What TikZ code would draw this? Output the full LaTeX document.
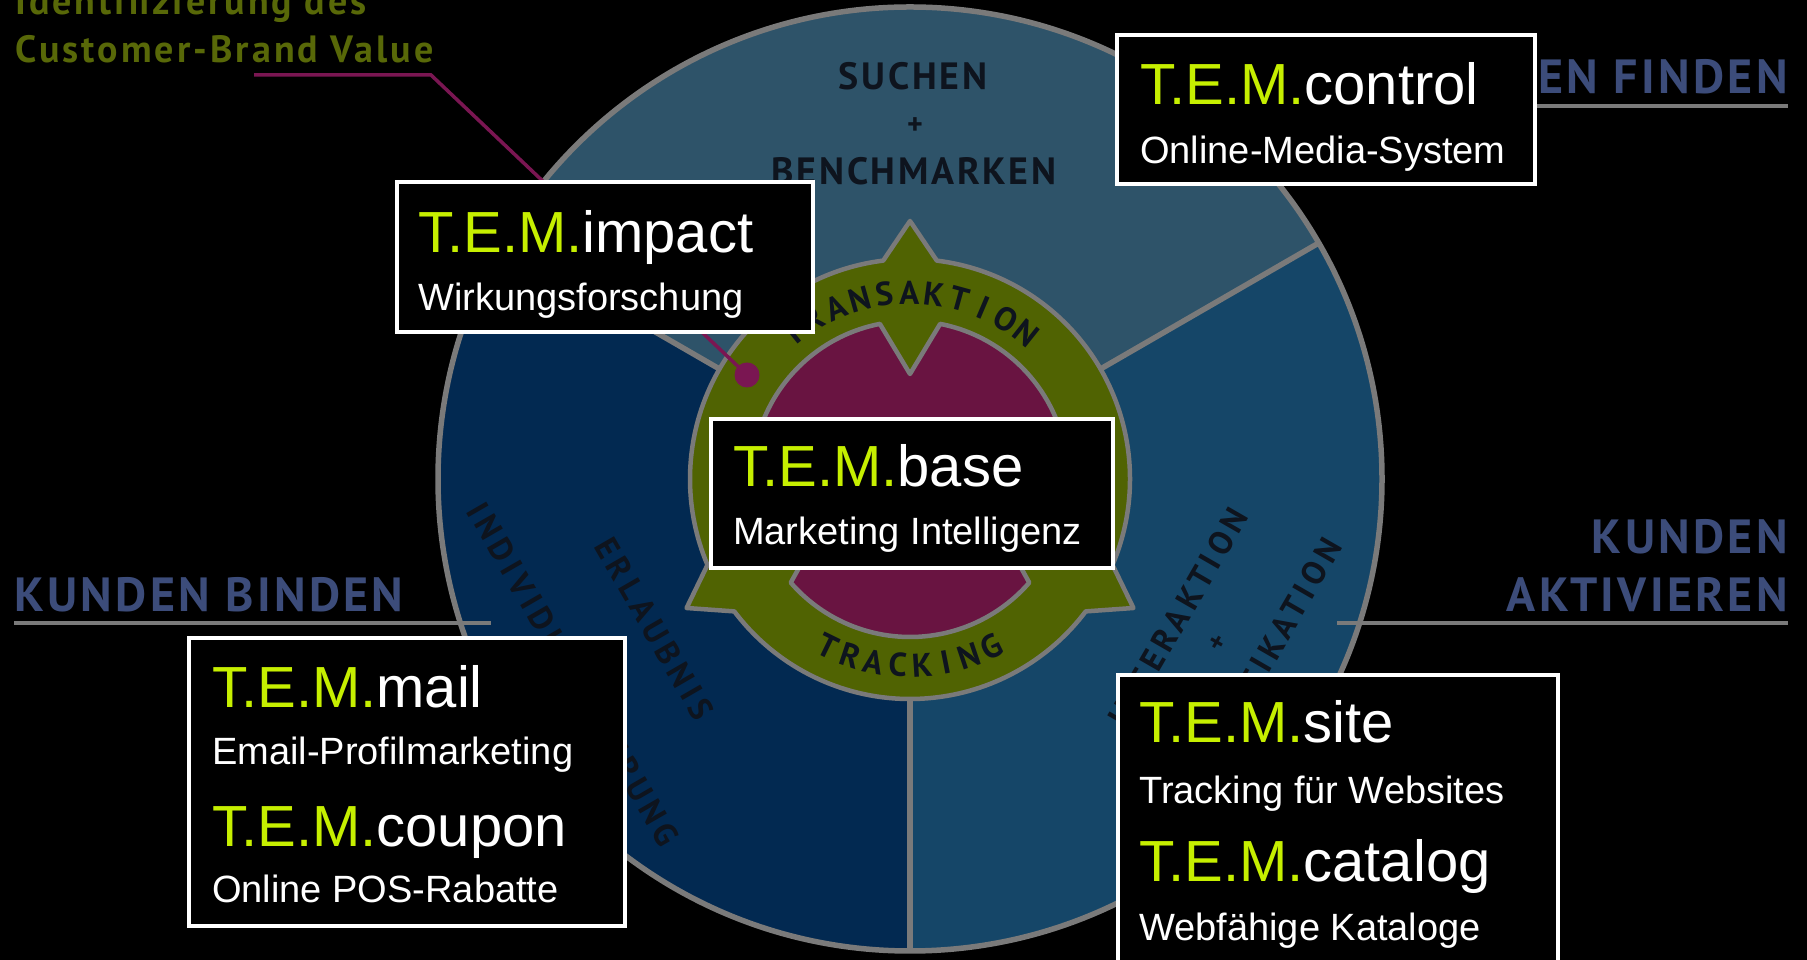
\documentclass[tikz,border=0pt]{standalone}
\usepackage{fontspec}
\setmainfont{Liberation Sans}
\newfontfamily\dinfont{PT Sans}[LetterSpace=7]
\newfontfamily\dinsector{PT Sans}[LetterSpace=15]
\newfontfamily\dinplain{PT Sans}
\newfontfamily\dinlabel{PT Sans}[LetterSpace=7]
\newfontfamily\dinolive{PT Sans}[LetterSpace=8]
\usetikzlibrary{calc}
\definecolor{sectop}{RGB}{46,83,105}
\definecolor{secright}{RGB}{21,70,104}
\definecolor{secleft}{RGB}{2,41,81}
\definecolor{rimgray}{RGB}{122,122,122}
\definecolor{ringgreen}{RGB}{80,99,2}
\definecolor{coremag}{RGB}{105,20,65}
\definecolor{temlime}{RGB}{198,239,0}
\definecolor{labelblue}{RGB}{60,76,122}
\definecolor{textolive}{RGB}{88,104,8}
\definecolor{leadmag}{RGB}{122,22,82}
\definecolor{inktext}{RGB}{14,20,30}
\newcommand\TEMpre{\textcolor{temlime}{T.E.M.}}
\begin{document}
\begin{tikzpicture}[x=1pt,y=1pt,
  rim/.style={draw=rimgray, line width=5.5pt},
  ringrim/.style={draw=rimgray, line width=4.5pt, line join=round},
  tembox/.style={draw=white, fill=black, line width=3.5pt, rectangle, inner sep=0pt, outer sep=0pt, anchor=south west},
  head/.style={anchor=base west, inner sep=0pt, text=white, font=\fontsize{58}{60}\selectfont},
  sub/.style={anchor=base west, inner sep=0pt, text=white, font=\fontsize{38}{40}\selectfont},
  ringchar/.style={anchor=base, inner sep=0pt, text=inktext, font=\dinplain\bfseries\fontsize{33}{35}\selectfont},
  sectortxt/.style={inner sep=0pt, text=inktext, text depth=0pt, font=\dinsector\bfseries\fontsize{33}{36}\selectfont},
  suchtxt/.style={anchor=base, inner sep=0pt, text=inktext, font=\dinfont\bfseries\fontsize{38}{40}\selectfont},
  outerlabel/.style={inner sep=0pt, text=labelblue, font=\dinlabel\bfseries\fontsize{48}{50}\selectfont},
  olivetxt/.style={anchor=base west, inner sep=0pt, text=textolive, font=\dinolive\bfseries\fontsize{38}{40}\selectfont},
  underl/.style={draw=rimgray, line width=4pt},
  leader/.style={draw=leadmag, line width=3.5pt}
]
\useasboundingbox (0,0) rectangle (1807,960);
\clip (0,0) rectangle (1807,960);
\fill[black] (0,0) rectangle (1807,960);

\coordinate (C) at (910,481);

% outer sectors
\fill[secleft] (C) -- ($(C)+(150:472)$) arc[start angle=150,end angle=270,radius=472] -- cycle;
\fill[secright] (C) -- ($(C)+(270:472)$) arc[start angle=270,end angle=390,radius=472] -- cycle;
\fill[sectop] (C) -- ($(C)+(30:472)$) arc[start angle=30,end angle=150,radius=472] -- cycle;
\draw[rim] (C) circle[radius=472];
\foreach \a in {30,150,270} \draw[rim] ($(C)+(\a:200)$) -- ($(C)+(\a:472)$);

% green ring with arrow points
\draw[ringrim, fill=ringgreen] ($(C)+(97:220)$) arc[start angle=97,end angle=203,radius=220]
  -- ($(C)+(210:258)$) -- ($(C)+(217:220)$) arc[start angle=217,end angle=323,radius=220]
  -- ($(C)+(330:258)$) -- ($(C)+(337:220)$) arc[start angle=337,end angle=443,radius=220]
  -- ($(C)+(90:258)$) -- cycle;
% magenta core
\draw[ringrim, fill=coremag] ($(C)+(101:158)$) arc[start angle=101,end angle=199,radius=158]
  -- ($(C)+(210:105)$) -- ($(C)+(221:158)$) arc[start angle=221,end angle=319,radius=158]
  -- ($(C)+(330:105)$) -- ($(C)+(341:158)$) arc[start angle=341,end angle=439,radius=158]
  -- ($(C)+(90:105)$) -- cycle;

% ring texts
\foreach \ch [count=\i] in {T,R,A,N,S,A,K,T,I,O,N} {
  \pgfmathsetmacro\ang{129-(\i-1)*7.76}
  \node[ringchar, rotate=\ang-90] (trans\i) at ($(C)+(\ang:175)$) {\ch};
}
\foreach \ch [count=\i] in {T,R,A,C,K,I,N,G} {
  \pgfmathsetmacro\ang{244+(\i-1)*7.43}
  \node[ringchar, rotate=\ang+90] (track\i) at ($(C)+(\ang:198)$) {\ch};
}

% sector texts
\node[suchtxt] (suchen) at (913,870) {SUCHEN};
\node[inner sep=0pt, text=inktext, font=\dinplain\bfseries\fontsize{30}{32}\selectfont] (plustop) at (915,834) {+};
\node[suchtxt] (bench) at (914,775) {BENCHMARKEN};
\node[sectortxt, rotate=-60] (erlaubnis) at (654.7,331.3) {ERLAUBNIS};
\node[sectortxt, rotate=-60] (indiv) at (573.6,285.6) {INDIVIDUALISIERUNG};
\node[sectortxt, rotate=60] (interakt) at (1177.7,342.6) {INTERAKTION};
\node[inner sep=0pt, text=inktext, rotate=60, font=\dinplain\bfseries\fontsize{28}{30}\selectfont] (plusright) at (1218.2,316.9) {+};
\node[sectortxt, rotate=60] (qualif) at (1261.8,296.4) {QUALIFIKATION};

% outer labels and underlines
\node[outerlabel, anchor=base west] (kbinden) at (14,348) {KUNDEN BINDEN};
\coordinate (ulA1) at (14,337); \coordinate (ulA2) at (491,337);
\draw[underl] (ulA1) -- (ulA2);
\node[outerlabel, anchor=base east] (kfinden) at (1788,866) {KUNDEN FINDEN};
\coordinate (ulB1) at (1200,854); \coordinate (ulB2) at (1788,854);
\draw[underl] (ulB1) -- (ulB2);
\node[outerlabel, anchor=base east] (kunden) at (1788,406) {KUNDEN};
\node[outerlabel, anchor=base east] (aktiv) at (1788,348) {AKTIVIEREN};
\coordinate (ulC1) at (1337,337); \coordinate (ulC2) at (1788,337);
\draw[underl] (ulC1) -- (ulC2);

% top-left note and leader
\node[olivetxt] (idtxt) at (15,945) {Identifizierung des};
\node[olivetxt] (cbv) at (15,897) {Customer-Brand Value};
\coordinate (leadA) at (254,885);
\coordinate (leadB) at (431,885);
\node[circle, fill=leadmag, minimum size=25pt, inner sep=0pt] (dot) at (747,585) {};
\draw[leader] (leadA) -- (leadB) -- (dot.center);

% T.E.M. boxes
\node[tembox, minimum width=416pt, minimum height=150pt] (impactbox) at (397,628) {};
\node[head] (impacthead) at (418,707) {\TEMpre impact};
\node[sub] (impactsub) at (418,649) {Wirkungsforschung};

\node[tembox, minimum width=418pt, minimum height=149pt] (controlbox) at (1117,776) {};
\node[head] (controlhead) at (1140,855) {\TEMpre control};
\node[sub] (controlsub) at (1140,796) {Online-Media-System};

\node[tembox, minimum width=402pt, minimum height=149pt] (basebox) at (711,392) {};
\node[head] (basehead) at (733,473) {\TEMpre base};
\node[sub] (basesub) at (733,415) {Marketing Intelligenz};

\node[tembox, minimum width=436pt, minimum height=288pt] (mailbox) at (189,34) {};
\node[head] (mailhead) at (212,252) {\TEMpre mail};
\node[sub] (mailsub) at (212,195) {Email-Profilmarketing};
\node[head] (couponhead) at (212,113) {\TEMpre coupon};
\node[sub] (couponsub) at (212,57) {Online POS-Rabatte};

\node[tembox, minimum width=440pt, minimum height=300pt] (sitebox) at (1118,-15) {};
\node[head] (sitehead) at (1139,217) {\TEMpre site};
\node[sub] (sitesub) at (1139,156) {Tracking für Websites};
\node[head] (cataloghead) at (1139,78) {\TEMpre catalog};
\node[sub] (catalogsub) at (1139,19) {Webfähige Kataloge};
\end{tikzpicture}
\end{document}
